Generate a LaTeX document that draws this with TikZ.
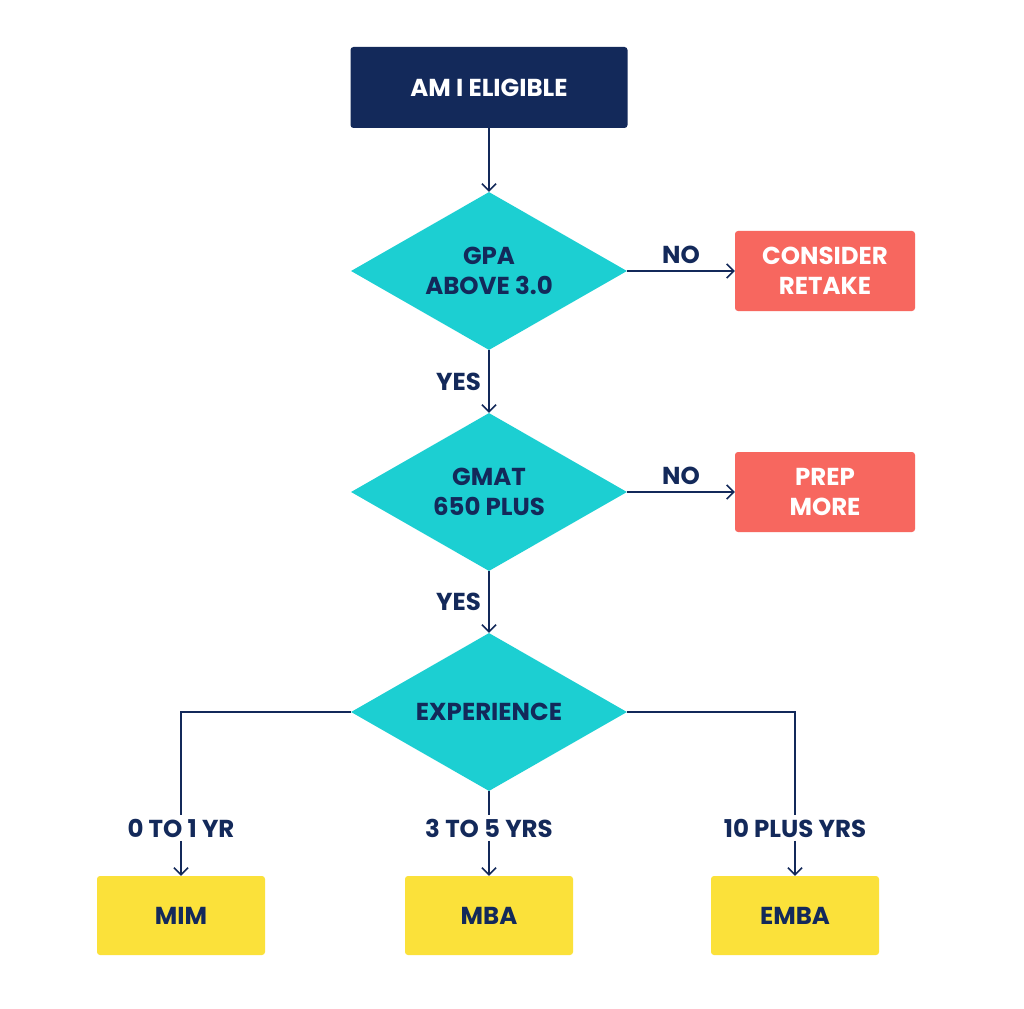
\documentclass[tikz,border=0pt]{standalone}
\usepackage{fontspec}
\setmainfont{Poppins}
\usetikzlibrary{shapes.geometric,arrows.meta}
\definecolor{navy}{HTML}{13295A}
\definecolor{cyanD}{HTML}{1CCFD2}
\definecolor{salmon}{HTML}{F7675F}
\definecolor{yel}{HTML}{FBE13A}
\begin{document}
\begin{tikzpicture}[x=1pt,y=1pt,
  txt/.style={font=\fontsize{24.5}{30}\selectfont\bfseries, align=center},
  box/.style={txt, rounded corners=3pt, inner sep=0pt},
  dia/.style={diamond, fill=cyanD, txt, text=navy, minimum width=276pt, minimum height=158pt, inner sep=-30pt},
  con/.style={navy, line width=1.6pt},
  arr/.style={con, -{Straight Barb[length=7pt,width=14pt,line width=1.6pt]}},
  lab/.style={txt, text=navy}]
\fill[white] (0,0) rectangle (1024,-1008);
\node[box, fill=navy, text=white, minimum width=277pt, minimum height=81pt] (start) at (489,-87.5) {AM I ELIGIBLE};
\node[dia] (d1) at (489,-271) {GPA\\ABOVE 3.0};
\node[dia] (d2) at (489,-492) {GMAT\\650 PLUS};
\node[dia] (d3) at (489,-712) {EXPERIENCE};
\node[box, fill=salmon, text=white, minimum width=180pt, minimum height=80pt] (r1) at (825,-271) {CONSIDER\\RETAKE};
\node[box, fill=salmon, text=white, minimum width=180pt, minimum height=80pt] (r2) at (825,-492) {PREP\\MORE};
\node[box, fill=yel, text=navy, minimum width=168pt, minimum height=79pt] (mim) at (181,-915.5) {MIM};
\node[box, fill=yel, text=navy, minimum width=168pt, minimum height=79pt] (mba) at (489,-915.5) {MBA};
\node[box, fill=yel, text=navy, minimum width=168pt, minimum height=79pt] (emba) at (795,-915.5) {EMBA};
\draw[arr] (start.south) -- (d1.north);
\draw[arr] (d1.east) -- (r1.west) node[lab, midway, above=3pt] {NO};
\draw[arr] (d2.east) -- (r2.west) node[lab, midway, above=3pt] {NO};
\draw[arr] (d1.south) -- node[lab, left=4pt] {YES} (d2.north);
\draw[arr] (d2.south) -- node[lab, left=4pt] {YES} (d3.north);
\node[lab] (l1) at (181,-828) {0 TO 1 YR};
\node[lab] (l2) at (489,-828) {3 TO 5 YRS};
\node[lab] (l3) at (795,-828) {10 PLUS YRS};
\draw[con] (d3.west) -| (l1.north);
\draw[con] (d3.south) -- (l2.north);
\draw[con] (d3.east) -| (l3.north);
\draw[arr] (l1.south) -- (mim.north);
\draw[arr] (l2.south) -- (mba.north);
\draw[arr] (l3.south) -- (emba.north);
\end{tikzpicture}
\end{document}
